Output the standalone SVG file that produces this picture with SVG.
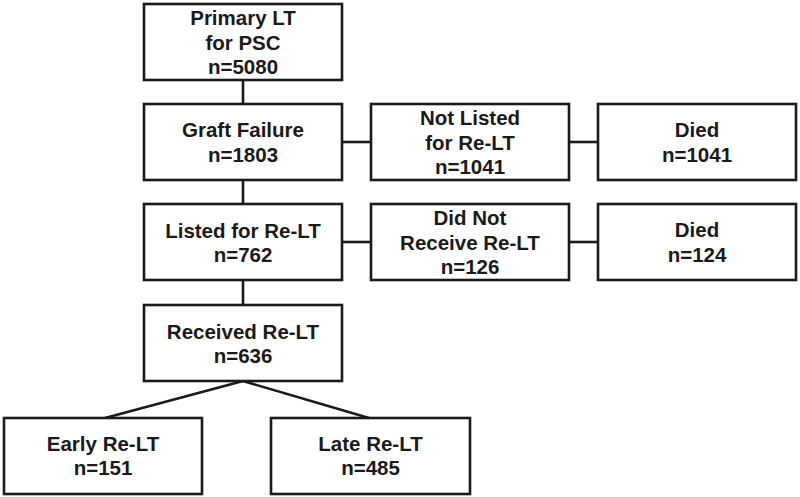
<svg xmlns="http://www.w3.org/2000/svg" width="800" height="497" viewBox="0 0 800 497">
<style>
.box{fill:#fff;stroke:#1a1a1a;stroke-width:2.6}
.ln{stroke:#1a1a1a;stroke-width:2.6;fill:none}
text{font-family:"Liberation Sans",Arial,sans-serif;font-weight:bold;font-size:20.5px;fill:#1a1a1a;text-anchor:middle}
</style>
<rect width="800" height="497" fill="#fff"/>
<g id="connectors">
<line class="ln" x1="243" y1="80" x2="243" y2="104"/>
<line class="ln" x1="243" y1="180" x2="243" y2="204"/>
<line class="ln" x1="243" y1="280" x2="243" y2="305"/>
<line class="ln" x1="342" y1="142" x2="371" y2="142"/>
<line class="ln" x1="569" y1="142" x2="598" y2="142"/>
<line class="ln" x1="342" y1="242" x2="371" y2="242"/>
<line class="ln" x1="569" y1="242" x2="598" y2="242"/>
<line class="ln" x1="243" y1="381" x2="105" y2="418"/>
<line class="ln" x1="243" y1="381" x2="369" y2="418"/>
</g>
<g id="primary"><rect class="box" x="144" y="4" width="198" height="76"/><text x="243" y="25">Primary LT</text><text x="243" y="50">for PSC</text><text x="243" y="74">n=5080</text></g>
<g id="graft"><rect class="box" x="144" y="104" width="198" height="76"/><text x="243" y="137">Graft Failure</text><text x="243" y="162">n=1803</text></g>
<g id="notlisted"><rect class="box" x="371" y="104" width="198" height="76"/><text x="470" y="125">Not Listed</text><text x="470" y="150">for Re-LT</text><text x="470" y="174">n=1041</text></g>
<g id="died1"><rect class="box" x="598" y="104" width="198" height="76"/><text x="697" y="137">Died</text><text x="697" y="162">n=1041</text></g>
<g id="listed"><rect class="box" x="144" y="204" width="198" height="76"/><text x="243" y="238">Listed for Re-LT</text><text x="243" y="262">n=762</text></g>
<g id="didnot"><rect class="box" x="371" y="204" width="198" height="76"/><text x="470" y="225">Did Not</text><text x="470" y="250">Receive Re-LT</text><text x="470" y="274">n=126</text></g>
<g id="died2"><rect class="box" x="598" y="204" width="198" height="76"/><text x="697" y="237">Died</text><text x="697" y="262">n=124</text></g>
<g id="received"><rect class="box" x="144" y="305" width="198" height="76"/><text x="243" y="339">Received Re-LT</text><text x="243" y="363">n=636</text></g>
<g id="early"><rect class="box" x="4" y="418" width="198" height="76"/><text x="103" y="451">Early Re-LT</text><text x="103" y="475">n=151</text></g>
<g id="late"><rect class="box" x="271" y="418" width="199" height="76"/><text x="370.5" y="451">Late Re-LT</text><text x="370.5" y="475">n=485</text></g>
</svg>
